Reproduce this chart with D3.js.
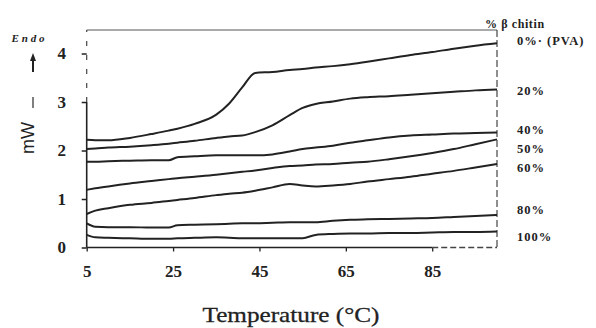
<!DOCTYPE html>
<html><head><meta charset="utf-8">
<script src="https://cdn.jsdelivr.net/npm/d3@7"></script>
<style>html,body{margin:0;padding:0;background:#fff;}svg{display:block;}</style>
</head><body>
<svg id="chart" width="596" height="328"></svg>
<script>
// ---- data ----
const temps = [5, 7, 10, 15, 20, 24, 26, 30, 35, 38, 41, 44, 48, 52, 55, 58, 62, 66, 70, 75, 80, 85, 90, 95, 100];
const s0   = [2.22,2.21,2.21,2.26,2.34,2.41,2.45,2.55,2.74,2.97,3.30,3.60,3.62,3.66,3.68,3.71,3.74,3.78,3.83,3.90,3.97,4.03,4.10,4.16,4.21];
const s20  = [2.03,2.04,2.06,2.08,2.11,2.14,2.16,2.20,2.26,2.29,2.31,2.38,2.52,2.73,2.88,2.96,3.01,3.07,3.10,3.12,3.15,3.18,3.21,3.24,3.26];
const s40  = [1.77,1.77,1.78,1.79,1.80,1.80,1.86,1.88,1.90,1.90,1.90,1.90,1.92,1.98,2.03,2.06,2.10,2.16,2.21,2.27,2.31,2.33,2.35,2.36,2.37];
const s50  = [1.19,1.22,1.26,1.32,1.37,1.41,1.43,1.46,1.50,1.53,1.56,1.59,1.64,1.68,1.69,1.71,1.72,1.75,1.77,1.82,1.88,1.95,2.03,2.13,2.23];
const s60  = [0.69,0.76,0.81,0.88,0.92,0.96,0.98,1.02,1.08,1.11,1.13,1.17,1.24,1.31,1.28,1.26,1.28,1.31,1.36,1.41,1.46,1.52,1.58,1.65,1.72];
const s80  = [0.50,0.43,0.42,0.42,0.41,0.41,0.46,0.47,0.48,0.49,0.50,0.50,0.51,0.52,0.52,0.52,0.55,0.57,0.58,0.59,0.60,0.61,0.63,0.65,0.67];
const s100 = [0.26,0.21,0.20,0.19,0.18,0.18,0.19,0.20,0.21,0.20,0.19,0.19,0.19,0.19,0.19,0.26,0.28,0.29,0.29,0.30,0.30,0.31,0.32,0.32,0.33];
const seriesNames = ["0%\u00b7 (PVA)", "20%", "40%", "50%", "60%", "80%", "100%"];
const seriesValues = [s0, s20, s40, s50, s60, s80, s100];
const xTicks = [5, 25, 45, 65, 85];
const yTicks = [0, 1, 2, 3, 4];
const legendTitle = "% \u03b2 chitin";
const xTitle = "Temperature (\u00b0C)";
const yTitle = "mW";
const endoLabel = "Endo";

// ---- layout ----
const svg = d3.select("#chart");
const x = d3.scaleLinear().domain([5, 100]).range([86.7, 497]);
const y = d3.scaleLinear().domain([0, 4.485]).range([247.5, 30]);
const ink = "#222";
const serif = "'Liberation Serif','DejaVu Serif',serif";

// frame: top line and right dashed line
svg.append("line").attr("x1", x(5)).attr("x2", x(100)).attr("y1", y(4.485)).attr("y2", y(4.485))
  .attr("stroke", "#555").attr("stroke-width", 1);
svg.append("line").attr("x1", x(100)).attr("x2", x(100)).attr("y1", y(4.485)).attr("y2", y(0))
  .attr("stroke", "#444").attr("stroke-width", 1.2).attr("stroke-dasharray", "7,3");

// left axis
const yAxis = d3.axisLeft(y).tickValues(yTicks).tickSize(5).tickFormat(d3.format("d"));
const gy = svg.append("g").attr("transform", `translate(${x(5)},0)`).call(yAxis);
gy.select(".domain").remove();
gy.selectAll(".tick line").attr("stroke", ink).attr("stroke-width", 1.5);
gy.selectAll(".tick text").attr("x", -25).attr("text-anchor", "middle")
  .attr("font-family", serif).attr("font-weight", "bold").attr("font-size", 17).attr("fill", ink);
svg.append("line").attr("x1", x(5)).attr("x2", x(5)).attr("y1", y(0)).attr("y2", y(3))
  .attr("stroke", ink).attr("stroke-width", 1.6);
svg.append("line").attr("x1", x(5)).attr("x2", x(5)).attr("y1", y(3)).attr("y2", y(4.485))
  .attr("stroke", "#444").attr("stroke-width", 1.2).attr("stroke-dasharray", "5,9");

// bottom axis
const xAxis = d3.axisBottom(x).tickValues(xTicks).tickSize(4).tickFormat(d3.format("d"));
const gx = svg.append("g").attr("transform", `translate(0,${y(0)})`).call(xAxis);
gx.select(".domain").remove();
gx.selectAll(".tick line").attr("stroke", ink).attr("stroke-width", 1.3);
gx.selectAll(".tick text").attr("y", 24).attr("dy", "0.32em")
  .attr("font-family", serif).attr("font-weight", "bold").attr("font-size", 17).attr("fill", ink);
svg.append("line").attr("x1", x(5)).attr("x2", x(85)).attr("y1", y(0)).attr("y2", y(0))
  .attr("stroke", ink).attr("stroke-width", 1.6);
svg.append("line").attr("x1", x(85)).attr("x2", x(100)).attr("y1", y(0)).attr("y2", y(0))
  .attr("stroke", "#444").attr("stroke-width", 1.3).attr("stroke-dasharray", "6,3");

// curves
const line = d3.line().x((d, i) => x(temps[i])).y(d => y(d)).curve(d3.curveMonotoneX);
svg.append("g").selectAll("path").data(seriesValues).join("path")
  .attr("d", d => line(d)).attr("fill", "none").attr("stroke", ink).attr("stroke-width", 2);

// series labels at right
const labelY = [41, 91, 130, 149, 168, 210, 237];
svg.append("g").selectAll("text").data(seriesNames).join("text")
  .attr("x", 517).attr("y", (d, i) => labelY[i]).attr("dy", "0.35em")
  .attr("font-family", serif).attr("font-weight", "bold").attr("font-size", 12.5)
  .attr("letter-spacing", 1).attr("fill", ink).text(d => d);
svg.append("text").attr("x", 485).attr("y", 24).attr("dy", "0.35em")
  .attr("font-family", serif).attr("font-weight", "bold").attr("font-size", 12)
  .attr("letter-spacing", 0.6).attr("fill", ink).text(legendTitle);

// axis titles
svg.append("text").attr("x", 291).attr("y", 322)
  .attr("text-anchor", "middle").attr("font-family", serif).attr("font-size", 22)
  .attr("stroke", ink).attr("stroke-width", 0.3)
  .attr("textLength", 177).attr("lengthAdjust", "spacingAndGlyphs").attr("fill", ink).text(xTitle);
svg.append("text").attr("transform", "translate(34,138) rotate(-90)")
  .attr("text-anchor", "middle").attr("font-family", "'Liberation Sans',sans-serif").attr("font-size", 18)
  .attr("fill", ink).text(yTitle);

// Endo arrow
svg.append("text").attr("x", 28).attr("y", 38).attr("dy", "0.35em").attr("text-anchor", "middle")
  .attr("font-family", serif).attr("font-weight", "bold").attr("font-style", "italic").attr("font-size", 11)
  .attr("textLength", 33).attr("lengthAdjust", "spacing").attr("fill", ink).text(endoLabel);
svg.append("line").attr("x1", 33).attr("x2", 33).attr("y1", 72).attr("y2", 58)
  .attr("stroke", ink).attr("stroke-width", 2);
svg.append("line").attr("x1", 33).attr("x2", 33).attr("y1", 97).attr("y2", 108)
  .attr("stroke", "#555").attr("stroke-width", 1.5);
svg.append("path").attr("d", "M33,53 L30,61 L36,61 Z").attr("fill", ink);
</script>
</body></html>
